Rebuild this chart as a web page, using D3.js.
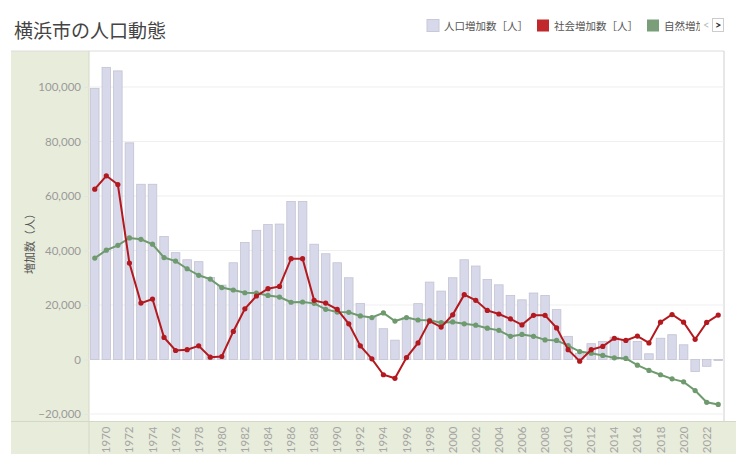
<!DOCTYPE html>
<html><head><meta charset="utf-8">
<script src="https://cdn.jsdelivr.net/npm/d3@7/dist/d3.min.js"></script>
<style>body{margin:0;background:#fff;}svg{display:block;font-family:"Noto Sans CJK JP","Noto Sans",sans-serif;}</style>
</head><body><svg id="c" width="736" height="454"></svg>
<script>
const years = d3.range(1969, 2024);
const total = [99500,107200,105900,79500,64300,64300,45100,39200,36600,35900,
  30100,27300,35500,42900,47400,49500,49700,58000,58000,42300,
  38800,35500,30000,20600,15500,11300,7100,15500,20500,28400,
  25100,30000,36600,34300,29400,27400,23500,21900,24400,23500,
  18300,8500,2300,5800,6600,8200,7200,6600,2100,7800,
  9100,5400,-4400,-2500,-400];
const social = [62500,67400,64200,35400,20700,22200,8100,3300,3600,5000,
  850,1100,10300,18600,23300,26000,26800,37000,37000,21700,
  20700,18400,13100,5000,260,-5600,-6900,700,6100,14100,
  11900,16400,23800,21700,18000,16700,14900,12700,16200,16200,
  11600,3600,-600,3600,4800,7800,7000,8600,6100,13700,
  16500,13700,7400,13600,16300];
const natural = [37200,40100,41900,44600,44100,42300,37400,36100,33300,30900,
  29500,26400,25500,24500,24400,23500,22900,21000,21100,20600,
  18400,17400,17300,16000,15400,17100,14100,15400,14500,14400,
  13500,13800,13100,12600,11500,10700,8500,9200,8500,7200,
  7000,5100,2900,2300,1500,600,400,-2100,-4000,-5600,
  -7100,-8200,-11400,-15700,-16500];
const yTicks = [-20000,0,20000,40000,60000,80000,100000];
const xTickYears = years.filter(y => y % 2 === 0);
const legendLabels = ["人口増加数［人］","社会増加数［人］","自然増加数［人］"];
const colors = {bar:"#d7d8ea", barStroke:"#c2c3d2", social:"#b3191e", natural:"#6e9a6e", panel:"#e8ecda"};

const svg = d3.select("#c");
const L=89, R=724, T=51, B=421.5;

// panels
svg.append("rect").attr("x",11).attr("y",51).attr("width",L-11).attr("height",454-51).attr("fill",colors.panel);
svg.append("rect").attr("x",L).attr("y",B).attr("width",736-L).attr("height",454-B).attr("fill",colors.panel);
svg.append("line").attr("x1",11).attr("x2",R).attr("y1",T).attr("y2",T).attr("stroke","#dcdcdc");
svg.append("line").attr("x1",R).attr("x2",R).attr("y1",T).attr("y2",B).attr("stroke","#d0d0d0");
svg.append("line").attr("x1",L).attr("x2",L).attr("y1",T).attr("y2",454).attr("stroke","#d4d8c6");
svg.append("line").attr("x1",11).attr("x2",736).attr("y1",B).attr("y2",B).attr("stroke","#d4d8c6");

const x = d3.scaleBand().domain(years).range([L,R]).paddingInner(0.26).paddingOuter(0.13);
const y = d3.scaleLinear().domain([-22750,113200]).range([B,T]);

// grid
svg.append("g").selectAll("line").data(yTicks).join("line")
  .attr("x1",L).attr("x2",R).attr("y1",d=>y(d)).attr("y2",d=>y(d))
  .attr("stroke","#efefef");

// y axis
const ya = svg.append("g").attr("transform",`translate(${L},0)`)
  .call(d3.axisLeft(y).tickValues(yTicks).tickSize(5).tickPadding(3).tickFormat(d3.format(",")));
ya.select(".domain").remove();
ya.selectAll("line").attr("stroke","#e4e4e4");
ya.selectAll("text").attr("fill","#9a9a9a").style("font-family","Lato, 'Noto Sans', sans-serif").style("font-size","11.5px");

// x axis
const xa = svg.append("g").attr("transform",`translate(0,${B})`)
  .call(d3.axisBottom(x).tickValues(xTickYears).tickSize(0));
xa.select(".domain").remove();
xa.selectAll("text").attr("fill","#a5a5a5").style("font-family","Lato, 'Noto Sans', sans-serif").style("font-size","11.5px")
  .attr("transform","rotate(-90)").attr("text-anchor","end").attr("x",-5).attr("y",0).attr("dy","0.35em");

// bars
svg.append("g").selectAll("rect").data(years).join("rect")
  .attr("x",d=>x(d)).attr("width",x.bandwidth())
  .attr("y",(d,i)=>y(Math.max(0,total[i])))
  .attr("height",(d,i)=>Math.abs(y(total[i])-y(0)))
  .attr("fill",colors.bar).attr("stroke",colors.barStroke).attr("stroke-width",0.8);

const cx = d => x(d)+x.bandwidth()/2;
function series(vals,color){
  const g = svg.append("g");
  g.append("path").datum(vals).attr("fill","none").attr("stroke",color).attr("stroke-width",2)
    .attr("d", d3.line().x((v,i)=>cx(years[i])).y(v=>y(v)));
  g.selectAll("circle").data(vals).join("circle")
    .attr("cx",(v,i)=>cx(years[i])).attr("cy",v=>y(v)).attr("r",2.6).attr("fill",color);
}
series(natural, colors.natural);
series(social, colors.social);

// title
svg.append("text").attr("x",14).attr("y",38).text("横浜市の人口動態")
  .attr("fill","#444").style("font-size","19px");
// y title
svg.append("text").attr("transform","translate(34,241) rotate(-90)").attr("text-anchor","middle")
  .text("増加数（人）").attr("fill","#555").style("font-size","11px");

// legend (third label is cut off by the pager, as in the original)
svg.append("clipPath").attr("id","lc").append("rect").attr("x",400).attr("y",10).attr("width",300).attr("height",30);
const lg = svg.append("g").attr("clip-path","url(#lc)");
const lx = [427,537,647];
const lcol = [colors.bar, "#c0282c", "#7a9e7a"];
legendLabels.forEach((t,i)=>{
  lg.append("rect").attr("x",lx[i]).attr("y",19.5).attr("width",12).attr("height",12)
    .attr("fill",lcol[i]).attr("stroke",i===0?"#c8c9d8":"none");
  lg.append("text").attr("x",lx[i]+17).attr("y",30).text(t).attr("fill","#555").style("font-size","10.5px");
});
svg.append("text").attr("x",703).attr("y",29).text("<").attr("fill","#bbb").style("font-size","11px").style("font-family","Lato, sans-serif");
svg.append("rect").attr("x",712.5).attr("y",18.5).attr("width",11).attr("height",13).attr("fill","#fff").attr("stroke","#ccc");
svg.append("text").attr("x",715).attr("y",29).text(">").attr("fill","#333").style("font-size","11px").style("font-weight","bold").style("font-family","Lato, sans-serif");
</script></body></html>
